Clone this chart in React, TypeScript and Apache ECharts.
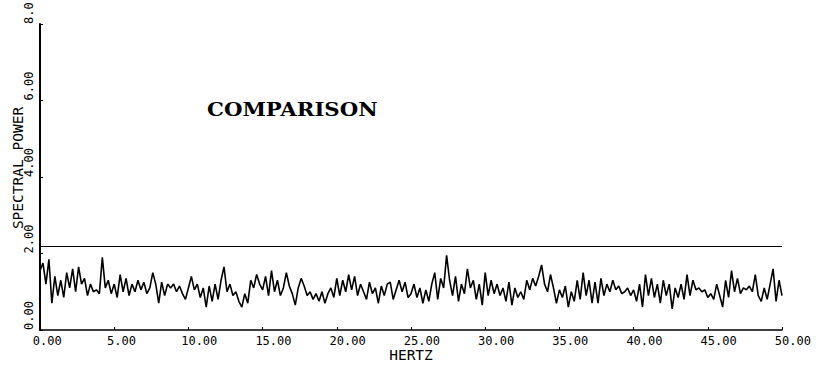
import React, { useEffect, useRef } from "react";
import * as echarts from "echarts";

// Frequency grid step (Hz) of the spectral estimate
const FREQ_STEP = 0.2;

// Spectral power, in segments: [start Hz, values...]
const SEG_00_START = 0.0;
const SEG_00 = [1.55, 1.75, 1.2, 1.85, 0.7, 1.4, 0.9, 1.3, 0.85, 1.5, 1.1, 1.6, 1.0, 1.65, 1.2, 1.35, 0.9, 1.2, 1.0, 1.05, 0.95, 1.9, 1.1, 1.3, 0.95, 1.2, 0.85, 1.45, 1.0, 1.35, 0.9, 1.2];
const SEG_06_START = 6.4;
const SEG_06 = [1.0, 1.3, 1.05, 1.25, 0.95, 1.1, 1.5, 1.2, 0.7, 1.25, 0.9, 1.2, 1.1, 1.2, 1.0, 1.15, 0.95, 0.8, 1.1, 1.4, 1.05, 1.2, 0.85, 1.1, 0.6, 1.15, 0.75, 1.2, 0.8, 1.3, 1.65];
const SEG_12_START = 12.6;
const SEG_12 = [1.0, 1.2, 0.9, 1.0, 0.75, 0.6, 0.95, 0.7, 1.3, 1.1, 1.45, 1.2, 1.05, 1.4, 0.9, 1.55, 1.0, 1.3, 0.9, 1.1, 1.5, 1.15, 0.95, 0.65, 1.1, 1.35, 1.15, 0.9, 1.0, 0.8, 0.95];
const SEG_18_START = 18.8;
const SEG_18 = [0.75, 1.0, 0.7, 0.95, 1.1, 0.85, 1.35, 0.9, 1.3, 1.0, 1.45, 1.05, 1.4, 0.9, 1.2, 1.0, 0.8, 1.25, 0.95, 1.1, 0.7, 1.15, 0.9, 1.2, 1.25, 0.8, 1.05, 1.3, 1.0, 1.25, 0.85];
const SEG_25_START = 25.0;
const SEG_25 = [0.95, 1.2, 0.85, 1.1, 0.7, 1.05, 0.75, 1.2, 1.5, 0.8, 1.35, 1.1, 1.95, 1.3, 0.9, 1.4, 0.75, 1.2, 0.95, 1.6, 1.1, 1.3, 0.8, 1.2, 0.65, 1.5, 0.9, 1.3, 0.95, 1.2, 0.9];
const SEG_31_START = 31.2;
const SEG_31 = [1.1, 0.75, 1.25, 0.65, 1.1, 0.85, 1.0, 0.8, 1.3, 1.05, 1.35, 1.15, 1.4, 1.7, 1.2, 1.0, 1.45, 1.1, 0.7, 1.05, 0.85, 1.15, 0.6, 1.0, 0.75, 1.3, 0.8, 1.5, 0.9, 1.3, 0.7];
const SEG_37_START = 37.4;
const SEG_37 = [1.25, 0.7, 1.35, 0.9, 1.2, 1.0, 1.3, 1.05, 1.15, 0.95, 1.0, 1.1, 0.9, 1.05, 0.75, 1.2, 0.6, 1.45, 0.9, 1.35, 0.85, 1.2, 0.7, 1.3, 0.9, 1.2, 0.55, 1.1, 0.85, 1.2, 0.8];
const SEG_43_START = 43.6;
const SEG_43 = [1.45, 0.9, 1.3, 1.05, 1.1, 1.0, 1.05, 0.85, 0.95, 0.8, 1.2, 0.9, 0.6, 1.3, 0.85, 1.55, 1.0, 1.35, 0.95, 1.1, 1.05, 1.15, 1.0, 1.45, 0.9, 0.75, 1.1, 0.8, 1.2, 1.6, 0.75, 1.3, 0.9];

// Reference level line
const COMPARISON_LEVEL = 2.2;

// Axes
const X_MIN = 0;
const X_MAX = 50;
const X_INTERVAL = 5;
const Y_MIN = 0;
const Y_MAX = 8;
const Y_INTERVAL = 2;

const TITLE = "COMPARISON";
const X_NAME = "HERTZ";
const Y_NAME = "SPECTRAL POWER";

const SEGMENTS: [number, number[]][] = [
  [SEG_00_START, SEG_00],
  [SEG_06_START, SEG_06],
  [SEG_12_START, SEG_12],
  [SEG_18_START, SEG_18],
  [SEG_25_START, SEG_25],
  [SEG_31_START, SEG_31],
  [SEG_37_START, SEG_37],
  [SEG_43_START, SEG_43],
];

const MONO = "'DejaVu Sans Mono', monospace";

export default function App() {
  const ref = useRef<HTMLDivElement>(null);

  useEffect(() => {
    if (!ref.current) return;
    const chart = echarts.init(ref.current, undefined, { renderer: "svg" });

    const data: [number, number][] = [];
    SEGMENTS.forEach(([start, vals]) => {
      vals.forEach((v, i) => {
        data.push([Math.round((start + i * FREQ_STEP) * 100) / 100, v]);
      });
    });

    const charW = 0.602 * 12;

    chart.setOption({
      animation: false,
      backgroundColor: "#ffffff",
      grid: { left: 40, right: 34, top: 24, bottom: 36, outerBoundsMode: "none", containLabel: false },
      graphic: [
        {
          type: "text",
          x: 207,
          y: 101,
          scaleX: 1.18,
          style: {
            text: TITLE,
            fill: "#000",
            font: "bold 18px 'DejaVu Serif', serif",
            textVerticalAlign: "top",
          },
        },
      ],
      xAxis: {
        type: "value",
        min: X_MIN,
        max: X_MAX,
        interval: X_INTERVAL,
        name: X_NAME,
        nameLocation: "middle",
        nameGap: 17,
        nameMoveOverlap: false,
        nameTextStyle: { fontFamily: MONO, fontSize: 14.5, color: "#000" },
        axisLine: { show: true, lineStyle: { color: "#000", width: 1.5 } },
        axisTick: { show: true, inside: true, length: 3, lineStyle: { color: "#000", width: 1 } },
        splitLine: { show: false },
        axisLabel: {
          margin: 5,
          align: "left",
          fontFamily: MONO,
          fontSize: 12,
          color: "#000",
          formatter: (v: number) => {
            const s = v.toFixed(2);
            return `{a|${s}}`;
          },
          rich: {
            a: { fontFamily: MONO, fontSize: 12, color: "#000", padding: [0, 0, 0, -charW] },
          },
        },
      },
      yAxis: {
        type: "value",
        min: Y_MIN,
        max: Y_MAX,
        interval: Y_INTERVAL,
        name: Y_NAME,
        nameLocation: "middle",
        nameGap: 15,
        nameMoveOverlap: false,
        nameTextStyle: { fontFamily: MONO, fontSize: 14.5, color: "#000", padding: [0, 0, 0, 18] },
        axisLine: { show: true, lineStyle: { color: "#000", width: 2 } },
        axisTick: { show: true, inside: true, length: 3, lineStyle: { color: "#000", width: 1 } },
        splitLine: { show: false },
        axisLabel: {
          rotate: 90,
          margin: 5,
          align: "left",
          verticalAlign: "bottom",
          fontFamily: MONO,
          fontSize: 12,
          color: "#000",
          formatter: (v: number) => (v === Y_MAX ? v.toFixed(1) : v.toFixed(2)),
        },
      },
      series: [
        {
          type: "line",
          data,
          showSymbol: false,
          symbol: "none",
          lineStyle: { color: "#000", width: 1.6 },
          markLine: {
            silent: true,
            symbol: ["none", "none"],
            label: { show: false },
            lineStyle: { color: "#000", type: "solid", width: 1.2 },
            data: [{ yAxis: COMPARISON_LEVEL }],
          },
        },
      ],
    });

    return () => chart.dispose();
  }, []);

  return (
    <div
      ref={ref}
      style={{ position: "fixed", left: 0, top: 0, width: 816, height: 366, background: "#fff" }}
    />
  );
}
